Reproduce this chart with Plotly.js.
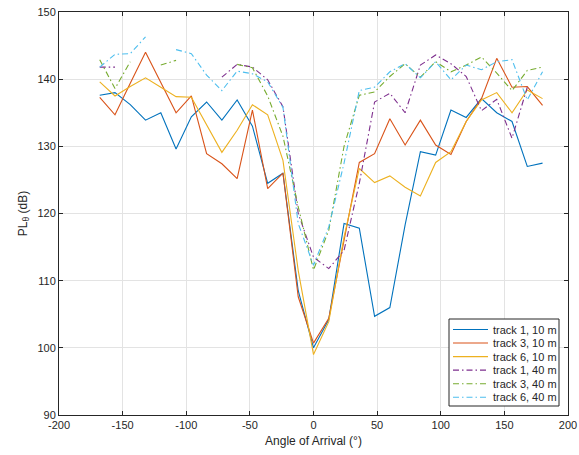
<!DOCTYPE html>
<html>
<head>
<meta charset="utf-8">
<script src="https://cdn.plot.ly/plotly-3.0.1.min.js"></script>
<style>html,body{margin:0;padding:0;background:#fff;}#chart{width:579px;height:455px;}</style>
</head>
<body>
<div id="chart"></div>
<script>
var angles = [-168,-156,-144,-132,-120,-108,-96,-84,-72,-60,-48,-36,-24,-12,0,12,24,36,48,60,72,84,96,108,120,132,144,156,168,180];

var track1_10m = [137.6,138.0,136.2,133.9,135.0,129.6,134.4,136.6,133.9,136.9,133.0,124.5,126.0,108.5,100.0,104.2,118.5,117.8,104.7,106.0,118.3,129.2,128.7,135.4,134.3,137.1,135.0,133.7,127.0,127.5];
var track3_10m = [137.3,134.7,139.4,144.0,139.5,135.0,137.5,128.9,127.4,125.2,135.4,123.7,126.0,107.6,100.7,104.4,116.0,127.6,128.9,134.1,130.2,133.9,130.2,128.8,133.7,137.1,143.1,138.8,138.9,136.1];
var track6_10m = [139.6,137.5,138.9,140.2,138.8,137.4,137.3,133.2,129.1,132.4,136.2,134.7,127.9,111.5,99.0,103.9,116.5,126.7,124.6,125.6,123.9,122.6,127.6,129.2,133.7,136.9,138.0,135.0,138.4,137.1];
var track1_40m = [141.8,141.8,null,null,null,null,null,null,140.3,142.2,141.8,139.9,135.9,120.0,113.5,111.8,114.5,124.5,136.6,137.9,135.0,142.1,143.6,142.3,140.4,135.3,137.0,131.2,138.8,null];
var track3_40m = [142.9,138.6,142.6,null,142.1,142.8,null,null,null,142.2,141.7,137.5,131.5,121.0,111.6,117.5,130.0,137.6,138.1,140.4,142.3,140.3,142.6,141.1,142.1,143.3,140.9,138.3,141.3,141.8];
var track6_40m = [141.8,143.7,143.8,146.3,null,144.4,143.8,140.6,138.3,141.2,140.8,139.6,135.8,118.5,112.3,118.0,127.5,138.3,138.8,141.1,142.3,140.2,142.6,139.9,142.1,141.4,142.6,142.9,136.9,141.1];

var xTickVals = [-200,-150,-100,-50,0,50,100,150,200];
var xTickText = ['-200','-150','-100','-50','0','50','100','150','200'];
var yTickVals = [90,100,110,120,130,140,150];

var seriesNames = ['track 1, 10 m','track 3, 10 m','track 6, 10 m','track 1, 40 m','track 3, 40 m','track 6, 40 m'];
var seriesData = [track1_10m, track3_10m, track6_10m, track1_40m, track3_40m, track6_40m];
var colors = ['#0072BD','#D95319','#EDB120','#7E2F8E','#77AC30','#4DBEEE'];
var DASHDOT = '6px,3px,1.5px,3px';
var dashes = ['solid','solid','solid',DASHDOT,DASHDOT,DASHDOT];

var traces = seriesData.map(function(d, i){
  return {
    x: angles, y: d, type: 'scatter', mode: 'lines', name: seriesNames[i],
    connectgaps: false, showlegend: false,
    line: {color: colors[i], width: 1.1, dash: dashes[i]}
  };
});

// plot area in pixels
var M = {l: 59, r: 11, t: 12, b: 40};
var W = 579, H = 455;
var pw = W - M.l - M.r, ph = H - M.t - M.b;
function px(x){ return (x - M.l) / pw; }
function py(y){ return (H - M.b - y) / ph; }

// custom legend (MATLAB-like compact box)
var LEG = {x0: 449, x1: 559, y0: 319, y1: 406, row0: 329.5, rowStep: 13.55, keyX0: 453, keyX1: 488, textX: 491};
var shapes = [{
  type: 'rect', xref: 'paper', yref: 'paper',
  x0: px(LEG.x0), x1: px(LEG.x1), y0: py(LEG.y1), y1: py(LEG.y0),
  line: {color: '#262626', width: 1}, fillcolor: '#ffffff', layer: 'above'
}];
var annotations = [];
seriesNames.forEach(function(n, i){
  var yy = LEG.row0 + i * LEG.rowStep;
  shapes.push({
    type: 'line', xref: 'paper', yref: 'paper',
    x0: px(LEG.keyX0), x1: px(LEG.keyX1), y0: py(yy), y1: py(yy),
    line: {color: colors[i], width: 1.1, dash: dashes[i]}, layer: 'above'
  });
  annotations.push({
    xref: 'paper', yref: 'paper', x: px(LEG.textX), y: py(yy),
    xanchor: 'left', yanchor: 'middle', showarrow: false, text: n,
    font: {size: 11, color: '#262626'}
  });
});

var axisCommon = {
  showline: true, linecolor: '#262626', linewidth: 1, mirror: 'ticks',
  ticks: 'inside', ticklen: 4, tickcolor: '#262626', tickwidth: 1,
  showgrid: true, gridcolor: '#e3e3e3', gridwidth: 1, zeroline: false,
  tickfont: {family: 'Liberation Sans, Arial, sans-serif', size: 11, color: '#262626'}
};

var layout = {
  width: W, height: H,
  margin: M,
  paper_bgcolor: '#fff', plot_bgcolor: '#fff',
  font: {family: 'Liberation Sans, Arial, sans-serif', size: 11, color: '#262626'},
  xaxis: Object.assign({}, axisCommon, {
    range: [-200, 200], tickmode: 'array', tickvals: xTickVals, ticktext: xTickText,
    title: {text: 'Angle of Arrival (°)', font: {size: 12, color: '#262626'}, standoff: 6}
  }),
  yaxis: Object.assign({}, axisCommon, {
    range: [90, 150], tickmode: 'array', tickvals: yTickVals,
    title: {text: 'PL<sub>θ</sub> (dB)', font: {size: 12, color: '#262626'}, standoff: 7}
  }),
  showlegend: false,
  shapes: shapes,
  annotations: annotations
};

Plotly.newPlot('chart', traces, layout, {displayModeBar: false, staticPlot: true});
</script>
</body>
</html>
